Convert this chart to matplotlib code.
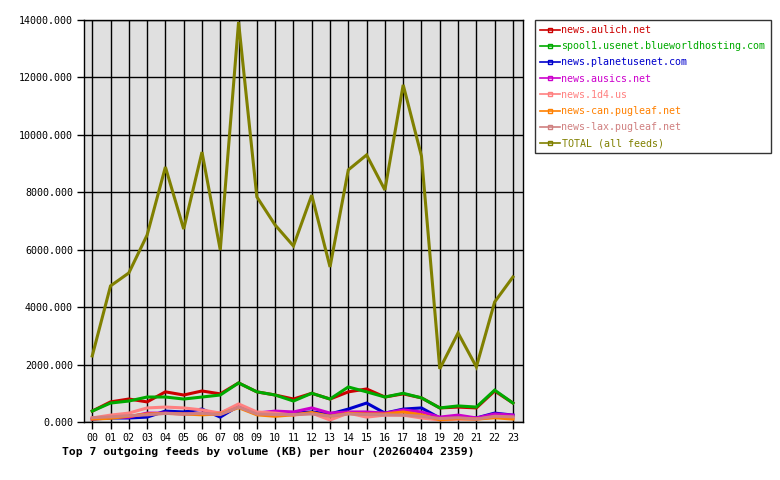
import matplotlib
matplotlib.use("Agg")
import matplotlib.pyplot as plt

hours = ["00", "01", "02", "03", "04", "05", "06", "07", "08", "09", "10", "11",
         "12", "13", "14", "15", "16", "17", "18", "19", "20", "21", "22", "23"]

feeds = ["news.aulich.net", "spool1.usenet.blueworldhosting.com", "news.planetusenet.com",
         "news.ausics.net", "news.1d4.us", "news-can.pugleaf.net", "news-lax.pugleaf.net",
         "TOTAL (all feeds)"]
colors = ["#cc0000", "#00aa00", "#0000cc", "#cc00cc", "#ff8080", "#ff8000", "#d08080", "#808000"]

aulich = [380, 700, 800, 700, 1050, 940, 1080, 980, 1360, 1050, 940, 800,
          1000, 800, 1050, 1150, 870, 980, 840, 490, 520, 490, 1080, 660]
spool1 = [380, 660, 730, 870, 870, 800, 870, 940, 1360, 1050, 940, 730,
          1000, 800, 1220, 1050, 870, 1000, 840, 490, 560, 520, 1110, 660]
planet = [100, 140, 140, 170, 380, 350, 450, 170, 560, 310, 310, 310,
          350, 280, 450, 660, 310, 450, 490, 140, 170, 140, 310, 240]
ausics = [100, 170, 170, 310, 310, 280, 310, 310, 560, 310, 380, 350,
          490, 310, 350, 350, 310, 420, 350, 170, 240, 140, 280, 240]
id4 = [140, 240, 310, 490, 520, 490, 420, 310, 630, 350, 310, 240,
       310, 70, 310, 170, 240, 240, 140, 70, 100, 100, 170, 140]
pug_can = [100, 130, 200, 280, 300, 280, 250, 280, 500, 250, 200, 250,
           330, 200, 300, 280, 280, 350, 250, 80, 120, 100, 150, 100]
pug_lax = [150, 180, 220, 250, 300, 280, 300, 260, 520, 280, 260, 260,
           280, 200, 280, 260, 250, 240, 200, 120, 150, 100, 200, 180]
total = [2300, 4740, 5190, 6510, 8880, 6720, 9400, 5990, 13930, 7840, 6860, 6130,
         7900, 5400, 8780, 9300, 8080, 11740, 9260, 1850, 3100, 1920, 4180, 5050]

series = [aulich, spool1, planet, ausics, id4, pug_can, pug_lax, total]

plt.rcParams['font.family'] = 'DejaVu Sans Mono'

fig = plt.figure(figsize=(7.8, 4.8), dpi=100)
ax = fig.add_axes([84/780, 58/480, 439/780, 402/480])
ax.set_facecolor("#e0e0e0")

x = list(range(len(hours)))
for vals, c, name in zip(series, colors, feeds):
    ax.plot(x, vals, color=c, lw=2.2, label=name, solid_joinstyle="miter")

ax.set_xlim(-0.45, 23.55)
ax.set_ylim(0, 14000)
ax.set_xticks(x)
ax.set_xticklabels(hours, fontsize=7.2)
yt = list(range(0, 14001, 2000))
ax.set_yticks(yt)
ax.set_yticklabels([f"{v}.000" for v in yt], fontsize=7.2)
ax.grid(True, color="black", lw=1)
ax.set_axisbelow(True)
ax.tick_params(length=5, width=1, pad=3)
for s in ax.spines.values():
    s.set_linewidth(1)

fig.text(62/780, 1 - 452/480, "Top 7 outgoing feeds by volume (KB) per hour (20260404 2359)",
         fontsize=8.2, fontweight="bold", va="center", ha="left")

leg = fig.legend(loc="upper left", bbox_to_anchor=(535/780, 1 - 20/480), fontsize=7.2,
                 frameon=True, fancybox=False, edgecolor="black", handlelength=2.0,
                 handletextpad=0.15, labelspacing=0.62, borderpad=0.5, borderaxespad=0)
leg.get_frame().set_linewidth(1)
for h in leg.get_lines():
    h.set_linewidth(1.2)
    h.set_marker("s")
    h.set_markersize(3)
    h.set_markerfacecolor("none")
    h.set_markevery([1])
for t, c in zip(leg.get_texts(), colors):
    t.set_color(c)

fig.savefig("out.png", dpi=100)
